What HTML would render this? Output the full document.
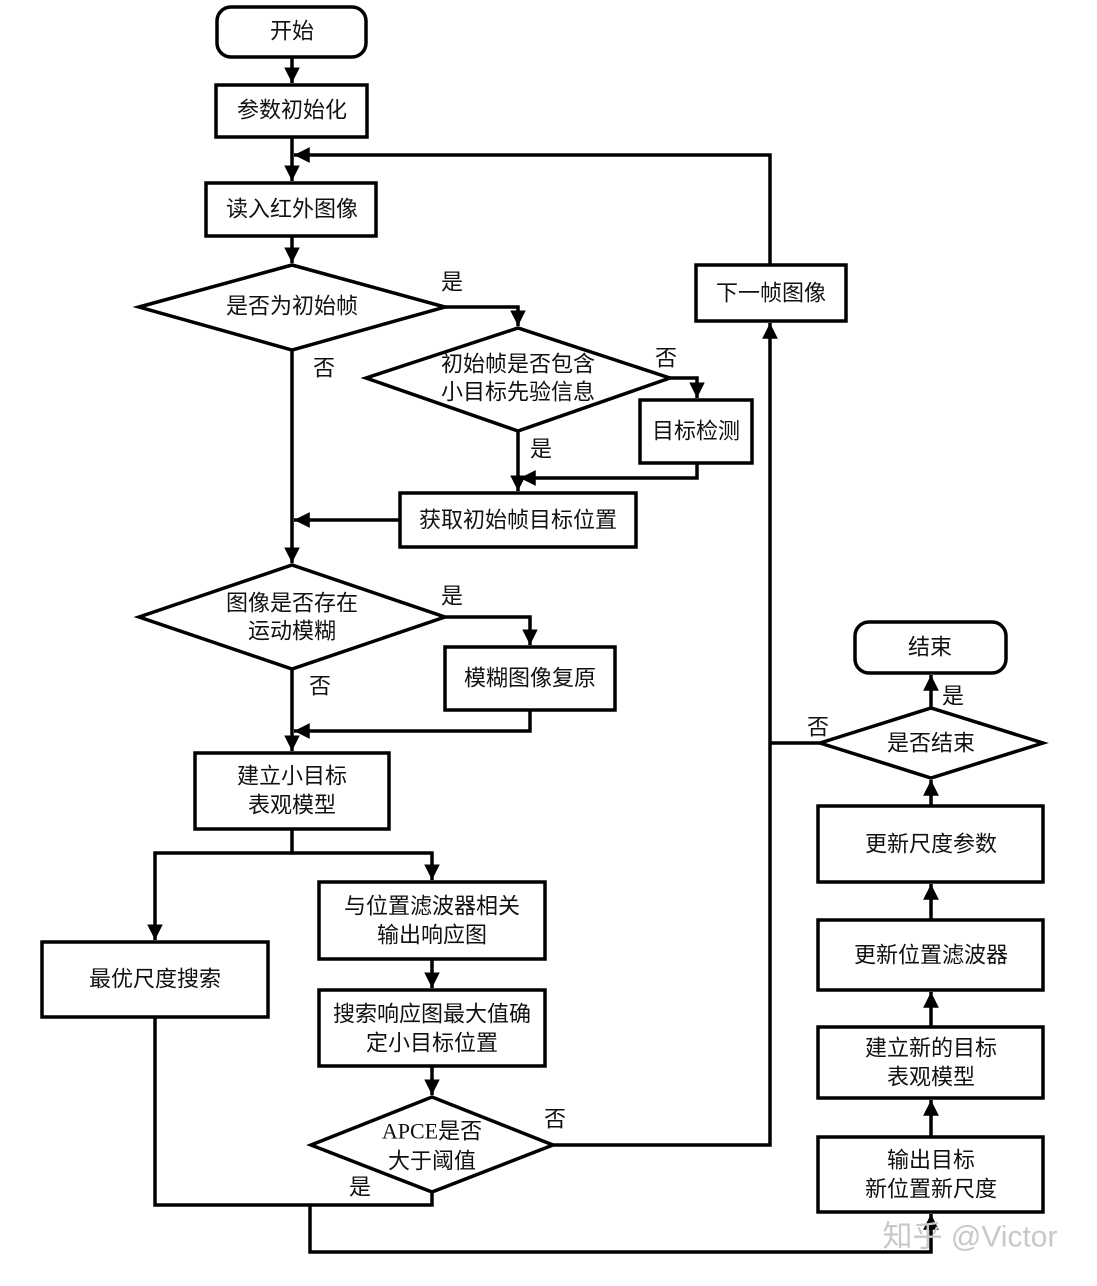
<!DOCTYPE html>
<html><head><meta charset="utf-8"><style>
html,body{margin:0;padding:0;background:#fff;}
svg text{font-family:"Liberation Serif","Noto Sans CJK SC",sans-serif;font-size:22px;fill:#111;text-anchor:middle;dominant-baseline:central;}
</style></head><body>
<svg width="1097" height="1281" viewBox="0 0 1097 1281" xmlns="http://www.w3.org/2000/svg">
<defs><marker id="a" viewBox="0 0 10 10" refX="10" refY="5" markerWidth="4.5" markerHeight="4.5" orient="auto" markerUnits="strokeWidth"><path d="M0,0L10,5L0,10z" fill="#000"/></marker></defs>
<g fill="#fff" stroke="#000" stroke-width="3.5">
<rect x="217" y="7" width="149" height="50" rx="14"/>
<rect x="216" y="85" width="151" height="52"/>
<rect x="206" y="183" width="170" height="53"/>
<polygon points="139,307 292,265 445,307 292,350"/>
<polygon points="366,378 518,328 670,378 518,431"/>
<rect x="640" y="400" width="112" height="63"/>
<rect x="400" y="493" width="236" height="54"/>
<polygon points="139,617 292,565 445,617 292,669"/>
<rect x="445" y="647" width="170" height="63"/>
<rect x="195" y="753" width="194" height="76"/>
<rect x="42" y="942" width="226" height="75"/>
<rect x="319" y="882" width="226" height="77"/>
<rect x="319" y="990" width="226" height="76"/>
<polygon points="311,1145 432,1097 553,1145 432,1192"/>
<rect x="696" y="265" width="150" height="56"/>
<rect x="855" y="622" width="151" height="51" rx="14"/>
<polygon points="820,743 931,708 1043,743 931,778"/>
<rect x="818" y="806" width="225" height="76"/>
<rect x="818" y="920" width="225" height="70"/>
<rect x="818" y="1027" width="225" height="71"/>
<rect x="818" y="1137" width="225" height="75"/>
</g>
<g fill="none" stroke="#000" stroke-width="3.5">
<path d="M292,57V83" marker-end="url(#a)"/>
<path d="M292,137V181" marker-end="url(#a)"/>
<path d="M770,265V155H294" marker-end="url(#a)"/>
<path d="M292,236V263" marker-end="url(#a)"/>
<path d="M445,307H518V326" marker-end="url(#a)"/>
<path d="M670,378H697V398" marker-end="url(#a)"/>
<path d="M697,463V478H520" marker-end="url(#a)"/>
<path d="M518,431V491" marker-end="url(#a)"/>
<path d="M400,520H294" marker-end="url(#a)"/>
<path d="M292,350V563" marker-end="url(#a)"/>
<path d="M445,617H530V645" marker-end="url(#a)"/>
<path d="M530,710V731H294" marker-end="url(#a)"/>
<path d="M292,669V751" marker-end="url(#a)"/>
<path d="M292,829V853H155V940" marker-end="url(#a)"/>
<path d="M292,853H432V880" marker-end="url(#a)"/>
<path d="M432,959V988" marker-end="url(#a)"/>
<path d="M432,1066V1095" marker-end="url(#a)"/>
<path d="M553,1145H770V323" marker-end="url(#a)"/>
<path d="M820,743H770"/>
<path d="M155,1017V1205H432V1192"/>
<path d="M310,1205V1252H931V1214" marker-end="url(#a)"/>
<path d="M931,1137V1100" marker-end="url(#a)"/>
<path d="M931,1027V992" marker-end="url(#a)"/>
<path d="M931,920V884" marker-end="url(#a)"/>
<path d="M931,806V780" marker-end="url(#a)"/>
<path d="M931,708V675" marker-end="url(#a)"/>
</g>
<text x="292" y="31">开始</text>
<text x="292" y="110">参数初始化</text>
<text x="292" y="209">读入红外图像</text>
<text x="292" y="306">是否为初始帧</text>
<text x="452" y="282">是</text>
<text x="324" y="368">否</text>
<text x="518" y="364">初始帧是否包含</text>
<text x="518" y="392">小目标先验信息</text>
<text x="666" y="358">否</text>
<text x="696" y="431">目标检测</text>
<text x="541" y="449">是</text>
<text x="518" y="520">获取初始帧目标位置</text>
<text x="292" y="603">图像是否存在</text>
<text x="292" y="631">运动模糊</text>
<text x="452" y="596">是</text>
<text x="320" y="686">否</text>
<text x="530" y="678">模糊图像复原</text>
<text x="292" y="776">建立小目标</text>
<text x="292" y="805">表观模型</text>
<text x="155" y="979">最优尺度搜索</text>
<text x="432" y="906">与位置滤波器相关</text>
<text x="432" y="935">输出响应图</text>
<text x="432" y="1014">搜索响应图最大值确</text>
<text x="432" y="1043">定小目标位置</text>
<text x="432" y="1131">APCE是否</text>
<text x="432" y="1161">大于阈值</text>
<text x="555" y="1119">否</text>
<text x="360" y="1187">是</text>
<text x="771" y="293">下一帧图像</text>
<text x="930" y="647">结束</text>
<text x="953" y="696">是</text>
<text x="818" y="727">否</text>
<text x="931" y="743">是否结束</text>
<text x="931" y="844">更新尺度参数</text>
<text x="931" y="955">更新位置滤波器</text>
<text x="931" y="1048">建立新的目标</text>
<text x="931" y="1077">表观模型</text>
<text x="931" y="1160">输出目标</text>
<text x="931" y="1189">新位置新尺度</text>
<text x="970" y="1237" style="font-size:30px;fill:#c8c8c8;font-family:'Liberation Sans','Noto Sans CJK SC',sans-serif">知乎 @Victor</text>
</svg>
</body></html>
